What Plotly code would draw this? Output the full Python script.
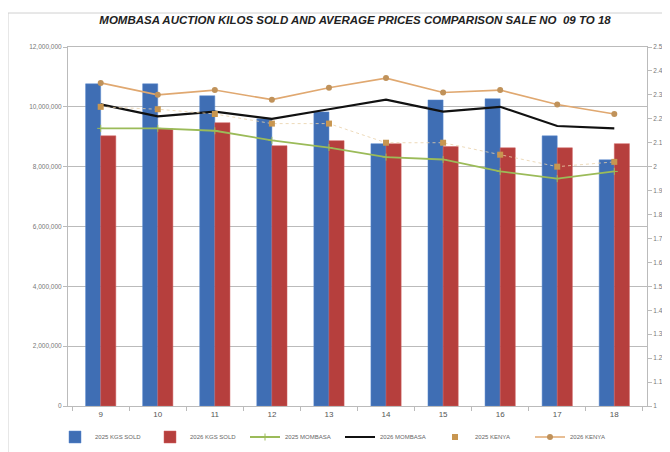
import plotly.graph_objects as go

sales = ["9", "10", "11", "12", "13", "14", "15", "16", "17", "18"]
kgs_2025 = [10770000, 10770000, 10370000, 9600000, 9830000, 8770000, 10230000, 10270000, 9030000, 8230000]
kgs_2026 = [9030000, 9270000, 9470000, 8700000, 8870000, 8770000, 8670000, 8630000, 8630000, 8770000]
mombasa_2025 = [2.16, 2.16, 2.15, 2.11, 2.08, 2.04, 2.03, 1.98, 1.95, 1.98]
mombasa_2026 = [2.26, 2.21, 2.23, 2.20, 2.24, 2.28, 2.23, 2.25, 2.17, 2.16]
kenya_2025 = [2.25, 2.24, 2.22, 2.18, 2.18, 2.10, 2.10, 2.05, 2.00, 2.02]
kenya_2026 = [2.35, 2.30, 2.32, 2.28, 2.33, 2.37, 2.31, 2.32, 2.26, 2.22]

left_ticks = [0, 2000000, 4000000, 6000000, 8000000, 10000000, 12000000]
left_labels = ["0", "2,000,000", "4,000,000", "6,000,000", "8,000,000", "10,000,000", "12,000,000"]
right_ticks = [round(1 + 0.1 * i, 1) for i in range(16)]
right_labels = [("%g" % v) for v in right_ticks]

W, H = 662, 444
L, R, T, B = 60, 23, 39, 46
PW, PH = W - L - R, H - T - B

fig = go.Figure()
fig.add_trace(go.Bar(x=sales, y=kgs_2025, name="2025 KGS SOLD", marker_color="#3F6EB4",
                     marker_line=dict(color="#5B8BD0", width=0.5)))
fig.add_trace(go.Bar(x=sales, y=kgs_2026, name="2026 KGS SOLD", marker_color="#B63F3D",
                     marker_line=dict(color="#D06060", width=0.5)))
fig.add_trace(go.Scatter(x=sales, y=mombasa_2025, name="2025 MOMBASA", yaxis="y2",
                         mode="lines+markers", line=dict(color="#9BBB59", width=1.8),
                         marker=dict(symbol="cross-thin", size=5, line=dict(color="#9BBB59", width=1))))
fig.add_trace(go.Scatter(x=sales, y=mombasa_2026, name="2026 MOMBASA", yaxis="y2",
                         mode="lines", line=dict(color="#111111", width=2.2)))
fig.add_trace(go.Scatter(x=sales, y=kenya_2025, name="2025 KENYA", yaxis="y2",
                         mode="lines", line=dict(color="#E8D0A8", width=0.8, dash="dot"),
                         showlegend=False, hoverinfo="skip"))
fig.add_trace(go.Scatter(x=sales, y=kenya_2025, name="2025 KENYA", yaxis="y2",
                         mode="markers", marker=dict(symbol="square", size=6, color="#C89650")))
fig.add_trace(go.Scatter(x=sales, y=kenya_2026, name="2026 KENYA", yaxis="y2",
                         mode="lines+markers", line=dict(color="#E0A870", width=1.6),
                         marker=dict(symbol="circle", size=6, color="#C0925A")))

fig.update_layout(
    width=W, height=H,
    margin=dict(l=L, r=R, t=T, b=B, autoexpand=False),
    paper_bgcolor="white", plot_bgcolor="white",
    barmode="group", bargap=0.47, bargroupgap=0,
    title=dict(text="<b><i>MOMBASA AUCTION KILOS SOLD AND AVERAGE PRICES COMPARISON SALE NO  09 TO 18</i></b>",
               x=347 / W, xanchor="center", y=1 - 12 / H, yanchor="middle",
               font=dict(family="Liberation Sans", size=11.5, color="#222222")),
    font=dict(family="Liberation Sans", size=7, color="#666666"),
    xaxis=dict(type="category", showgrid=False, showline=True, linecolor="#BBBBBB",
               mirror=True, ticks="outside", tickson="boundaries", ticklen=4, tickcolor="#BBBBBB",
               tickfont=dict(size=8, color="#555555"), automargin=False),
    yaxis=dict(range=[0, 12000000], tickvals=left_ticks, ticktext=left_labels,
               showgrid=True, gridcolor="#BBBBBB", gridwidth=1, showline=True,
               linecolor="#BBBBBB", ticks="outside", ticklen=4, tickcolor="#BBBBBB",
               zeroline=False, tickfont=dict(size=6.5, color="#777777"), automargin=False),
    yaxis2=dict(range=[1, 2.5], tickvals=right_ticks, ticktext=right_labels,
                overlaying="y", side="right", showgrid=False, showline=True,
                linecolor="#BBBBBB", ticks="outside", ticklen=4, tickcolor="#BBBBBB",
                zeroline=False, tickfont=dict(size=6.5, color="#777777"), automargin=False),
    legend=dict(orientation="h", xref="container", yref="container",
                x=47 / W, xanchor="left", y=1 - 429 / H, yanchor="middle",
                font=dict(size=6, color="#666666"), entrywidth=50, entrywidthmode="pixels",
                tracegroupgap=0),
    shapes=[dict(type="rect", xref="paper", yref="paper",
                 x0=(0 - L) / PW, x1=(W - 1 - L) / PW, y0=(H - T - PH - H) / PH,
                 y1=(PH + T - 5) / PH,
                 line=dict(color="#D0D0D0", width=1), layer="below")],
)

fig.write_html("out.html")
